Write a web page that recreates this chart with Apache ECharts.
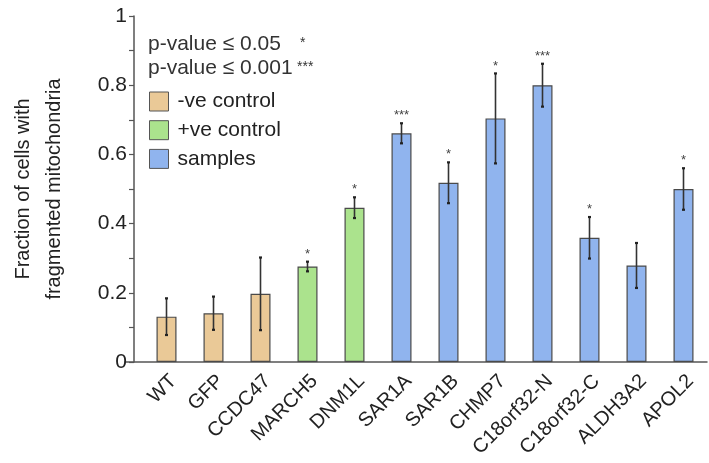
<!DOCTYPE html>
<html><head><meta charset="utf-8">
<script src="https://cdn.jsdelivr.net/npm/echarts@6/dist/echarts.min.js"></script>
<style>html,body{margin:0;padding:0;background:#fff}#c{width:709px;height:463px}</style>
</head><body><div id="c"></div>
<script>
var categories = ['WT','GFP','CCDC47','MARCH5','DNM1L','SAR1A','SAR1B','CHMP7','C18orf32-N','C18orf32-C','ALDH3A2','APOL2'];
var groups = ['neg','neg','neg','pos','pos','sam','sam','sam','sam','sam','sam','sam'];
var values = [0.131,0.141,0.197,0.276,0.446,0.661,0.518,0.704,0.800,0.359,0.279,0.500];
var errors = [0.053,0.048,0.105,0.014,0.030,0.029,0.059,0.130,0.062,0.060,0.065,0.060];
var stars  = ['','','','*','*','***','*','*','***','*','','*'];
var yTicks = [0,0.2,0.4,0.6,0.8,1];

var FONT = "'Liberation Sans', Arial, Helvetica, sans-serif";
var colors = {neg:'#EAC997', pos:'#ABE38D', sam:'#90B4EE'};
var names = {neg:'-ve control', pos:'+ve control', sam:'samples'};

function seriesFor(g){
  return {
    name: names[g], type:'bar', barWidth:20, barGap:'-100%',
    itemStyle:{color:colors[g], borderColor:'#4a4a4a', borderWidth:1.2},
    data: values.map(function(v,i){ return groups[i]===g ? v : '-'; }),
    z:2
  };
}

var chart = echarts.init(document.getElementById('c'));
chart.setOption({
  animation:false,
  grid:[
    {left:134, right:2, top:16, bottom:101},
    {left:125, right:2, top:16, bottom:101}
  ],
  legend:{
    orient:'vertical', left:144, top:86, itemWidth:19, itemHeight:19, itemGap:7.7,
    icon:'rect',
    itemStyle:{borderColor:'#555', borderWidth:1},
    textStyle:{fontFamily:FONT, fontSize:21, color:'#222', lineHeight:19, padding:[0,0,0,4]},
    data:[names.neg,names.pos,names.sam]
  },
  graphic:[
    {type:'text', left:148, top:34, style:{text:'p-value ≤ 0.05', font:'21px '+FONT, fill:'#333'}},
    {type:'text', left:300, top:36, style:{text:'*', font:'14px '+FONT, fill:'#333'}},
    {type:'text', left:148, top:58, style:{text:'p-value ≤ 0.001', font:'21px '+FONT, fill:'#333'}},
    {type:'text', left:297, top:60, style:{text:'***', font:'14px '+FONT, fill:'#333'}}
  ],
  xAxis:[
    {type:'category', gridIndex:0, data:categories,
     axisLine:{show:false}, axisTick:{show:false},
     axisLabel:{rotate:45, fontFamily:FONT, fontSize:20, color:'#222', margin:9, interval:0,
       verticalAlign:'top'}},
    {type:'value', gridIndex:1, min:0, max:1,
     axisLine:{show:true, lineStyle:{color:'#555', width:1.5}}, axisTick:{show:false},
     axisLabel:{show:false}, splitLine:{show:false}}
  ],
  yAxis:[
    {type:'value', gridIndex:0, min:0, max:1, interval:0.1, offset:9,
     axisLine:{show:true, lineStyle:{color:'#555', width:1.5}},
     axisTick:{show:true, length:5, lineStyle:{color:'#555', width:1.2}},
     splitLine:{show:false},
     axisLabel:{fontFamily:FONT, fontSize:21, color:'#222', margin:7,
       formatter:function(v){
         var k = Math.round(v*10);
         if (k%2!==0) return '';
         var s = yTicks.filter(function(t){return Math.abs(t-v)<1e-6;});
         return s.length ? String(s[0]) : '';
       }},
     name:'Fraction of cells with\nfragmented mitochondria', nameLocation:'middle', nameGap:64,
     nameTextStyle:{fontFamily:FONT, fontSize:20, color:'#222', lineHeight:31}},
    {type:'value', gridIndex:1, show:false, min:0, max:1}
  ],
  series:[
    seriesFor('neg'), seriesFor('pos'), seriesFor('sam'),
    {
      type:'custom', xAxisIndex:0, yAxisIndex:0, z:5,
      data: values.map(function(v,i){ return [i, v, errors[i]]; }),
      renderItem:function(params, api){
        var i = api.value(0), v = api.value(1), e = api.value(2);
        var s = stars[params.dataIndex];
        var top = api.coord([i, v+e]);
        var bot = api.coord([i, v-e]);
        var x = top[0];
        var children = [
          {type:'line', shape:{x1:x, y1:top[1], x2:x, y2:bot[1]}, style:{stroke:'#333', lineWidth:1.6}},
          {type:'line', shape:{x1:x-1.5, y1:top[1], x2:x+1.5, y2:top[1]}, style:{stroke:'#222', lineWidth:2.2}},
          {type:'line', shape:{x1:x-1.5, y1:bot[1], x2:x+1.5, y2:bot[1]}, style:{stroke:'#222', lineWidth:2.2}}
        ];
        if (s) {
          children.push({type:'text', style:{text:s, x:x, y:top[1]-1, textAlign:'center', textVerticalAlign:'bottom', font:'13px '+FONT, fill:'#444'}});
        }
        return {type:'group', children:children};
      }
    }
  ]
});
</script></body></html>
